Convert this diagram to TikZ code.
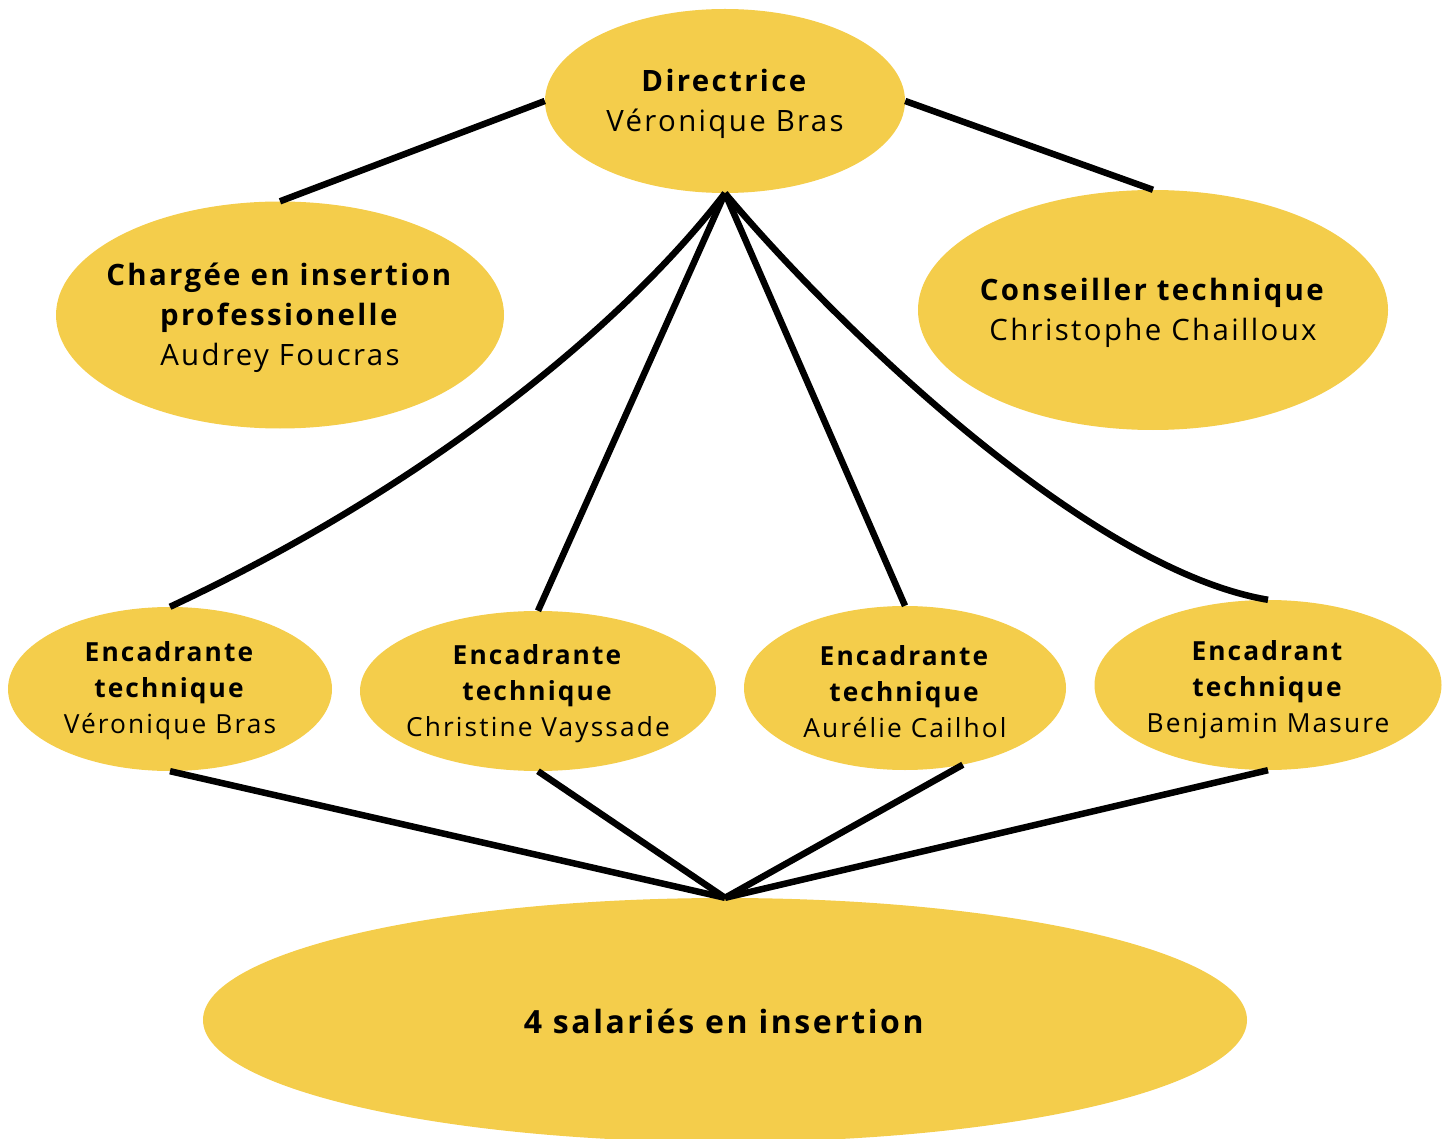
\documentclass[tikz,border=0pt]{standalone}
\usepackage{fontspec}
\setmainfont{Open Sans}[LetterSpace=8]
\usetikzlibrary{shapes.geometric}
\definecolor{gold}{HTML}{F4CD4B}
\begin{document}
\begin{tikzpicture}[x=1pt,y=-1pt,
  bubble/.style={ellipse,fill=gold,draw=none,inner sep=0pt},
  txt/.style={align=center,inner sep=0pt,font=\fontsize{29.4}{40}\selectfont},
  smalltxt/.style={align=center,inner sep=0pt,font=\fontsize{26.3}{36}\selectfont},
  link/.style={line width=6.5pt,draw=black}]
\useasboundingbox (0,0) rectangle (1451,1139);

% ellipses
\node[bubble,minimum width=360,minimum height=184] (dir) at (725,101) {};
\node[bubble,minimum width=448,minimum height=227] (charg) at (280,315) {};
\node[bubble,minimum width=470,minimum height=240] (cons) at (1153,310) {};
\node[bubble,minimum width=324,minimum height=164] (enca) at (170,689) {};
\node[bubble,minimum width=356,minimum height=160] (encb) at (538,691) {};
\node[bubble,minimum width=322,minimum height=164] (encc) at (905,688) {};
\node[bubble,minimum width=347,minimum height=170] (encd) at (1268,685) {};
\node[bubble,minimum width=1044,minimum height=244] (sal) at (725,1020) {};

% connectors
\draw[link] (dir.west) -- (charg.north);
\draw[link] (dir.east) -- (cons.north);
\draw[link] (dir.south) .. controls (620,330) and (420,490) .. (enca.north);
\draw[link] (dir.south) -- (encb.north);
\draw[link] (dir.south) -- (encc.north);
\draw[link] (dir.south) .. controls (840,330) and (1090,570) .. (encd.north);
\draw[link] (enca.south) -- (sal.north);
\draw[link] (encb.south) -- (sal.north);
\draw[link] (encc.-53) -- (sal.north);
\draw[link] (encd.south) -- (sal.north);

% labels
\node[txt] (tdir) at (725,104) {\textbf{Directrice}\\Véronique Bras};
\node[txt] (tcharg) at (280,318) {\textbf{Chargée en insertion}\\\textbf{professionelle}\\Audrey Foucras};
\node[txt] (tcons) at (1153,313) {\textbf{Conseiller technique}\\Christophe Chailloux};
\node[smalltxt] (tenca) at (170,691) {\textbf{Encadrante}\\\textbf{technique}\\Véronique Bras};
\node[smalltxt] (tencb) at (538,694) {\textbf{Encadrante}\\\textbf{technique}\\Christine Vayssade};
\node[smalltxt] (tencc) at (905,692) {\textbf{Encadrante}\\\textbf{technique}\\Aurélie Cailhol};
\node[smalltxt] (tencd) at (1268,690) {\textbf{Encadrant}\\\textbf{technique}\\Benjamin Masure};
\node[txt,font=\fontsize{32}{40}\selectfont] (tsal) at (725,1021) {\textbf{4 salariés en insertion}};
\end{tikzpicture}
\end{document}
